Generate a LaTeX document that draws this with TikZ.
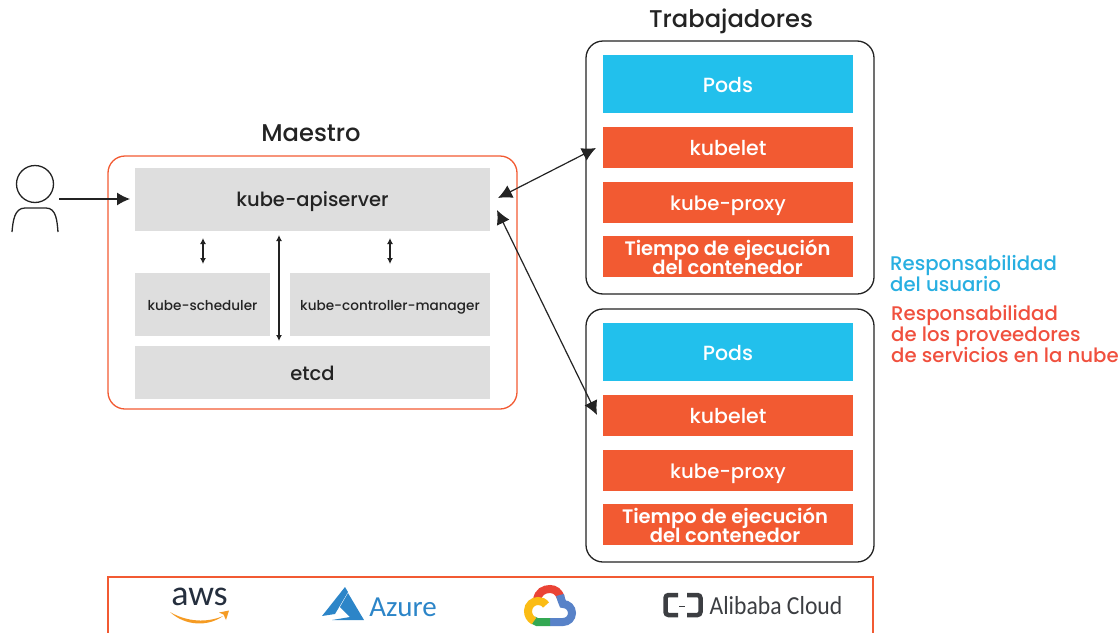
\documentclass[tikz,border=0pt]{standalone}
\usepackage{fontspec}
\setmainfont{Poppins Medium}[BoldFont={Poppins SemiBold}]
\newfontfamily\logofont{Carlito}
\usetikzlibrary{arrows.meta}
\definecolor{k8sorange}{RGB}{242,90,50}
\definecolor{k8sblue}{RGB}{34,192,236}
\definecolor{k8sgrey}{RGB}{222,222,222}
\definecolor{k8sink}{RGB}{35,35,35}
\definecolor{legendblue}{RGB}{40,175,225}
\definecolor{legendred}{RGB}{240,80,62}
\definecolor{awsink}{RGB}{37,47,62}
\definecolor{awsorange}{RGB}{245,155,35}
\definecolor{azureblue}{RGB}{44,133,200}
\definecolor{alibabaink}{RGB}{60,62,66}
\definecolor{gcred}{RGB}{234,67,53}
\definecolor{gcblue}{RGB}{88,130,200}
\definecolor{gcgreen}{RGB}{52,168,83}
\definecolor{gcyellow}{RGB}{251,188,20}
\tikzset{
  box/.style={draw=#1, rounded corners=17, line width=1.3},
  box/.default=k8sink,
  oneline/.style={text height=#1, text depth=0},
  oneline/.default=15,
  greybox/.style={fill=k8sgrey, text=k8sink, inner sep=0, oneline, font=\fontsize{#1}{#1}\selectfont},
  greybox/.default=19.5,
  colorbox/.style={fill=#1, text=white, inner sep=0, oneline, font=\fontsize{20.5}{20.5}\selectfont},
  runtimebox/.style={text=white, inner sep=0, align=center, font=\fontsize{19.5}{19}\selectfont\bfseries},
  heading/.style={text=k8sink, inner sep=0, font=\fontsize{24.2}{24.2}\selectfont},
  legend/.style={inner sep=0, align=left, anchor=north west, font=\fontsize{19.7}{21}\selectfont},
  twoway/.style={{Latex[length=#1, width=#1]}-{Latex[length=#1, width=#1]}, k8sink, line width=1.2},
  twoway/.default=13,
  gcstroke/.style={draw=#1, line width=8}
}
\newcommand{\workerstack}[3]{
    \node (#1pods) at (728, #2 + 29) [colorbox=k8sblue, oneline=16, minimum width=250, minimum height=58] {Pods};
    \node (#1kubelet) at (728, #2 + 92.5) [colorbox=k8sorange, minimum width=250, minimum height=41] {kubelet};
    \node (#1proxy) at (728, #2 + 147.5) [colorbox=k8sorange, minimum width=250, minimum height=41, font=\fontsize{19.7}{19.7}\selectfont] {kube-proxy};
    \node (#1runtimebg) at (728, #2 + 201.5) [colorbox=k8sorange, minimum width=250, minimum height=41] {};
    \node (#1runtime) at (#3, #2 + 202) [runtimebox] {Tiempo de ejecución\\[-2pt]del contenedor};
}
\begin{document}
\begin{tikzpicture}[x=1pt, y=-1pt]
    \useasboundingbox (0, 0) rectangle (1119, 632);

    % master
    \node (maestro) at (311, 133) [heading] {Maestro};
    \draw [box=k8sorange] (108, 156) rectangle (517, 409);
    \node (apiserver) at (312.5, 199.5) [greybox, oneline=14, minimum width=355, minimum height=63] {kube-apiserver};
    \node (scheduler) at (202.5, 304.5) [greybox=13.6, oneline=11, minimum width=135, minimum height=63] {kube-scheduler};
    \node (controller) at (390, 304.5) [greybox=13.6, oneline=11, minimum width=200, minimum height=63] {kube-controller-manager};
    \node (etcd) at (312.5, 372.5) [greybox, minimum width=355, minimum height=53] {etcd};

    % workers
    \node (trabajadores) at (731, 21) [heading] {Trabajadores};
    \draw [box] (586, 41) rectangle (874, 294);
    \draw [box] (586, 309) rectangle (874, 562);
    \workerstack{one}{55}{727.5}
    \workerstack{two}{323}{725}

    % user
    \node (userhead) at (35, 184) [circle, draw=k8sink, line width=1.3, minimum size=37, inner sep=0] {};
    \draw [k8sink, line width=1.3] (12, 232) to [out=85, in=180] (25, 208) -- (46, 208) to [out=0, in=95] (58, 232);

    % arrows
    \coordinate (userout) at (59, 199);
    \coordinate (apiin) at (130, 199);
    \draw [-{Latex[length=13, width=13]}, k8sink, line width=1.2] (userout) -- (apiin);
    \coordinate (apiworkerone) at (498, 198);
    \coordinate (kubeletone) at (596, 148);
    \draw [twoway=14] (apiworkerone) -- (kubeletone);
    \coordinate (apiworkertwo) at (497, 210);
    \coordinate (kubelettwo) at (597, 415);
    \draw [twoway=14] (apiworkertwo) -- (kubelettwo);
    \coordinate (schedtop) at (203, 238);
    \coordinate (schedbottom) at (203, 264);
    \draw [twoway=6] (schedtop) -- (schedbottom);
    \coordinate (ctrltop) at (390, 238);
    \coordinate (ctrlbottom) at (390, 264);
    \draw [twoway=6] (ctrltop) -- (ctrlbottom);
    \coordinate (etcdtop) at (279, 235);
    \coordinate (etcdbottom) at (279, 341);
    \draw [twoway=6] (etcdtop) -- (etcdbottom);

    % legend
    \node (usuario) at (890, 255) [legend, text=legendblue] {Responsabilidad\\del usuario};
    \node (proveedores) at (891, 305) [legend, text=legendred] {Responsabilidad\\de los proveedores\\de servicios en la nube};

    % cloud strip
    \draw [k8sorange, line width=1.3] (108, 640) -- (108, 577) -- (873, 577) -- (873, 640);

    \node (aws) at (199.5, 597) [text=awsink, inner sep=0, font=\logofont\fontsize{36}{36}\selectfont] {aws};
    \fill [awsorange] (170, 612) .. controls (185, 626) and (208, 627) .. (223, 616) .. controls (207, 623) and (187, 622) .. (170, 612);
    \fill [awsorange] (219, 612.5) -- (229, 610.5) -- (226, 620) -- (223.5, 614.5) -- cycle;

    \fill [azureblue] (345, 587) -- (322, 616) -- (335, 614) -- (348, 592) -- cycle;
    \fill [azureblue] (348, 593) -- (340, 607) -- (350, 617) -- (332, 620) -- (364, 620) -- cycle;
    \node (azure) at (403, 607) [text=azureblue, inner sep=0, font=\logofont\fontsize{29}{29}\selectfont] {Azure};

    \draw [gcstroke=gcred] (537, 600) .. controls (538, 592) and (544, 589) .. (550, 589) .. controls (555, 589) and (559, 592) .. (561, 598);
    \draw [gcstroke=gcblue] (560, 595) .. controls (561, 599) and (562, 602) .. (563, 604) .. controls (568, 604) and (572, 608) .. (572, 613) .. controls (572, 618) and (568, 622) .. (563, 622) -- (550, 622);
    \draw [gcstroke=gcgreen] (550, 622) -- (537, 622) -- (533, 620);
    \draw [gcstroke=gcyellow] (534, 621) .. controls (530, 619) and (528, 615) .. (528, 611) .. controls (528, 605) and (533, 601) .. (538, 601) .. controls (541, 601) and (544, 602) .. (546, 605);

    \draw [alibabaink, line width=4.5, rounded corners=3] (678, 595) -- (665.5, 595) -- (665.5, 615) -- (678, 615);
    \draw [alibabaink, line width=4.5, rounded corners=3] (687, 595) -- (700.5, 595) -- (700.5, 615) -- (687, 615);
    \draw [alibabaink, line width=0.9] (679, 606) -- (685, 606);
    \node (alibaba) at (776, 606) [text=alibabaink, inner sep=0, xscale=0.91, transform shape, font=\logofont\fontsize{26}{26}\selectfont] {Alibaba Cloud};
\end{tikzpicture}
\end{document}
